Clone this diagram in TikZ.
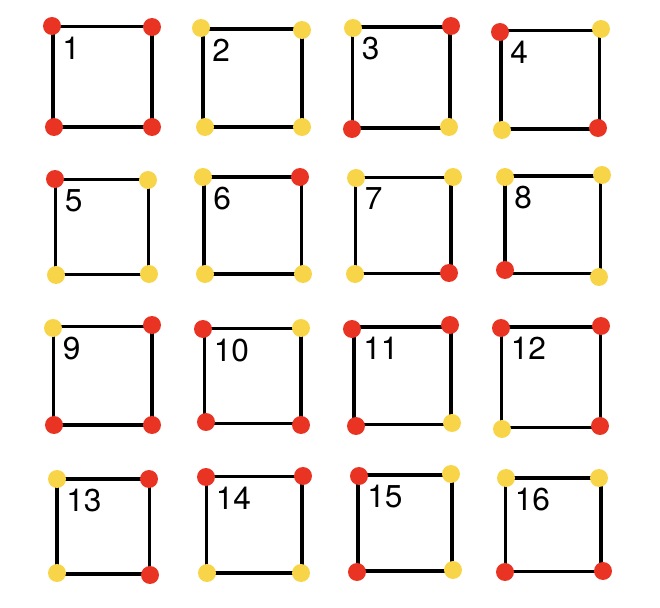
\documentclass[tikz,border=0pt]{standalone}
\usepackage{fontspec}
\setmainfont{TeX Gyre Heros}
\definecolor{rd}{RGB}{233,52,36}
\definecolor{yl}{RGB}{248,213,72}

\begin{document}
\begin{tikzpicture}[x=0.02cm,y=-0.02cm,
    dot/.style={circle,inner sep=0pt,minimum size=0.36cm,fill=#1},
    edge/.style={line width=2pt},
    num/.style={anchor=north west,inner sep=0pt,font=\fontsize{18}{18}\selectfont}]
    \useasboundingbox (0,0) rectangle (660,608);

    % corners: top left, top right, bottom left, bottom right
    \foreach \n/\xa/\ya/\xb/\yb/\xc/\yc/\xd/\yd/\ka/\kb/\kc/\kd in {
        1/52/26/152/27/54/127/152/127/rd/rd/rd/rd,
        2/201/28/302/30/205/127/302/127/yl/yl/yl/yl,
        3/353/28/451/26/352/129/449/127/yl/rd/rd/yl,
        4/500/32/601/29/502/130/598/128/rd/yl/yl/rd,
        5/55/179/148/180/56/275/149/274/rd/yl/yl/yl,
        6/203/177/300/177/205/274/303/274/yl/rd/yl/yl,
        7/356/178/453/177/355/274/449/273/yl/yl/yl/rd,
        8/505/177/602/175/505/270/599/277/yl/yl/rd/yl,
        9/53/328/152/325/54/425/152/425/yl/rd/rd/rd,
        10/203/329/301/328/206/422/301/425/rd/yl/rd/rd,
        11/352/329/450/325/356/426/452/423/rd/rd/rd/yl,
        12/501/328/601/326/502/429/600/426/rd/rd/yl/rd,
        13/57/479/149/479/57/573/150/575/yl/rd/yl/rd,
        14/206/477/303/476/207/573/301/573/rd/rd/yl/yl,
        15/359/476/451/474/357/572/453/570/rd/yl/rd/yl,
        16/506/478/599/478/505/572/603/571/yl/yl/rd/rd} {
        \coordinate (s\n nw) at ({(\xa+\xc)/2},{(\ya+\yb)/2});
        \coordinate (s\n se) at ({(\xb+\xd)/2},{(\yc+\yd)/2});
        % square
        \draw[edge] (s\n nw) rectangle (s\n se);
        % coloured corners
        \node[dot=\ka] (d\n tl) at (\xa,\ya) {};
        \node[dot=\kb] (d\n tr) at (\xb,\yb) {};
        \node[dot=\kc] (d\n bl) at (\xc,\yc) {};
        \node[dot=\kd] (d\n br) at (\xd,\yd) {};
        % number
        \node[num] (n\n) at ([shift={(9,10)}]s\n nw) {\n};
    }
\end{tikzpicture}
\end{document}
